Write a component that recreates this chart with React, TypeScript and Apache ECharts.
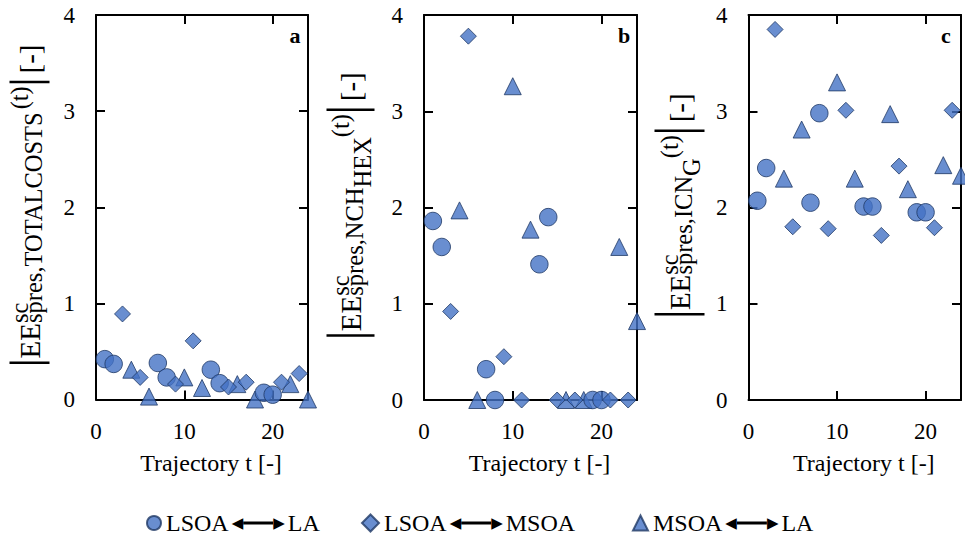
import React, { useEffect, useRef } from "react";
import * as echarts from "echarts";

// ---- data ----
const circleT = [1, 2, 7, 8, 13, 14, 19, 20];
const diamondT = [3, 5, 9, 11, 15, 17, 21, 23];
const triangleT = [4, 6, 10, 12, 16, 18, 22, 24];

const aCircle = [0.42, 0.37, 0.38, 0.23, 0.31, 0.17, 0.07, 0.05];
const aDiamond = [0.89, 0.23, 0.16, 0.61, 0.13, 0.18, 0.18, 0.27];
const aTriangle = [0.31, 0.03, 0.23, 0.12, 0.16, 0.0, 0.16, 0.0];

const bCircle = [1.86, 1.59, 0.32, 0.0, 1.41, 1.9, 0.0, 0.0];
const bDiamond = [0.92, 3.78, 0.45, 0.0, 0.0, 0.0, 0.0, 0.0];
const bTriangle = [1.97, 0.0, 3.26, 1.77, 0.0, 0.0, 1.59, 0.82];

const cCircle = [2.07, 2.41, 2.05, 2.98, 2.01, 2.01, 1.95, 1.95];
const cDiamond = [3.85, 1.8, 1.78, 3.01, 1.71, 2.43, 1.79, 3.01];
const cTriangle = [2.3, 2.81, 3.3, 2.3, 2.97, 2.19, 2.44, 2.33];

const seriesNames = ["LSOA⟷LA", "LSOA⟷MSOA", "MSOA⟷LA"];
const panelLetters = ["a", "b", "c"];
const xTitle = "Trajectory t [-]";

const FONT = "Liberation Serif";
const FILL = "#4472C4";
const EDGE = "#1F3864";

const zip = (t: number[], v: number[]) => t.map((x, i) => [x, v[i]]);

const panels = [
  { circle: aCircle, diamond: aDiamond, triangle: aTriangle },
  { circle: bCircle, diamond: bDiamond, triangle: bTriangle },
  { circle: cCircle, diamond: cDiamond, triangle: cTriangle },
];

const grids = [
  { left: 96, top: 15, width: 212, height: 384.5 },
  { left: 424, top: 15, width: 213, height: 385 },
  { left: 748.5, top: 15, width: 212.5, height: 385 },
];

const yNames = [
  "{bar| }{gap| }{m|EE}{supw|sc}{sub|spres,TOTALCOSTS}{gap| }{sup|(t)}{gap| }{bar| }{m| [-]}",
  "{bar| }{gap| }{m|EE}{supw|sc}{sub|spres,NCH}{sub2|HEX}{sup|(t)}{gap| }{bar| }{m| [-]}",
  "{bar| }{gap| }{m|EE}{supw|sc}{sub|spres,ICN}{sub2|G}{sup|(t)}{gap| }{bar| }{m| [-]}",
];
const barH = [40, 48, 50];
const yNameGap = [44, 49, 44];

function richFor(h: number) {
  return {
    bar: { width: 2.5, height: h, backgroundColor: "#000", align: "left" },
    gap: { width: 3, align: "left" },
    m: { fontSize: 29, fontFamily: FONT, color: "#000", align: "left" },
    supw: { fontSize: 24.5, fontFamily: FONT, color: "#000", width: 0.1, padding: [0, 0, 20, 0], align: "left" },
    sup: { fontSize: 24.5, fontFamily: FONT, color: "#000", padding: [0, 0, 20, 0], align: "left" },
    sub: { fontSize: 24.5, fontFamily: FONT, color: "#000", padding: [8, 0, 0, 0], align: "left" },
    sub2: { fontSize: 24.5, fontFamily: FONT, color: "#000", padding: [24, 0, 0, 0], align: "left" },
  };
}

export default function App() {
  const ref = useRef<HTMLDivElement>(null);
  useEffect(() => {
    if (!ref.current) return;
    const chart = echarts.init(ref.current, undefined, { renderer: "svg" });
    const axisLine = { show: true, onZero: false, lineStyle: { color: "#000", width: 2 } };
    const axisTick = { show: true, inside: true, length: 9, lineStyle: { color: "#000", width: 2 } };
    const xAxis: any[] = [];
    const yAxis: any[] = [];
    const series: any[] = [];
    grids.forEach((g, i) => {
      xAxis.push({
        gridIndex: i, type: "value", position: "bottom", min: 0, max: 24, interval: 10,
        axisLine, axisTick, splitLine: { show: false },
        axisLabel: {
          margin: 20, fontSize: 23, fontFamily: FONT, color: "#000",
          formatter: (v: number) => (v % 10 === 0 ? String(v) : ""),
        },
        name: xTitle, nameLocation: "middle", nameGap: 51,
        nameTextStyle: { fontSize: 24, fontFamily: FONT, color: "#000", padding: [0, 0, 0, 18] },
      });
      xAxis.push({
        gridIndex: i, type: "value", position: "top", min: 0, max: 24, interval: 10,
        axisLine, axisTick, axisLabel: { show: false }, splitLine: { show: false },
      });
      yAxis.push({
        gridIndex: i, type: "value", position: "left", min: 0, max: 4, interval: 1,
        axisLine, axisTick, splitLine: { show: false },
        axisLabel: { margin: 21, fontSize: 23, fontFamily: FONT, color: "#000" },
        name: yNames[i], nameLocation: "middle", nameGap: yNameGap[i],
        nameTextStyle: { fontFamily: FONT, color: "#000", padding: [0, 0, 0, 6], rich: richFor(barH[i]) },
      });
      yAxis.push({
        gridIndex: i, type: "value", position: "right", min: 0, max: 4, interval: 1,
        axisLine, axisTick, axisLabel: { show: false }, splitLine: { show: false },
      });
      const p = panels[i];
      const common = {
        type: "scatter", xAxisIndex: 2 * i, yAxisIndex: 2 * i, clip: false,
        itemStyle: { color: FILL, borderColor: EDGE, borderWidth: 1 },
      };
      series.push({ ...common, name: seriesNames[2], symbol: "triangle", symbolSize: 17, data: zip(triangleT, p.triangle) });
      series.push({ ...common, name: seriesNames[0], symbol: "circle", symbolSize: 17.5, data: zip(circleT, p.circle) });
      series.push({ ...common, name: seriesNames[1], symbol: "diamond", symbolSize: 16, data: zip(diamondT, p.diamond) });
    });

    const legendRich = {
      t: { fontSize: 24, fontFamily: FONT, color: "#000" },
      g: { width: 3 },
      ah: { fontSize: 15, fontFamily: "DejaVu Sans", color: "#000" },
      ln: { width: 30, height: 3, backgroundColor: "#000" },
    };
    const legendFmt = (name: string) => {
      const [l, r] = name.split("⟷");
      return `{t|${l}}{g| }{ah|◀}{ln| }{ah|▶}{g| }{t|${r}}`;
    };
    const legendLefts = [146, 361, 632];
    const legendSizes = [14, 17, 15];
    const legend = seriesNames.map((n, i) => ({
      data: [n], left: legendLefts[i], top: 511, padding: 0, orient: "horizontal",
      itemWidth: legendSizes[i], itemHeight: legendSizes[i], selectedMode: false,
      formatter: legendFmt, textStyle: { rich: legendRich, fontFamily: FONT, fontSize: 24, color: "#000" },
    }));

    const titleLefts = [289.5, 618, 941];
    const title = panelLetters.map((t, i) => ({
      text: t, left: titleLefts[i], top: 24.6, padding: 0,
      textStyle: { fontSize: 22, fontWeight: "bold", fontFamily: FONT, color: "#000" },
    }));

    chart.setOption({
      animation: false,
      backgroundColor: "#fff",
      textStyle: { fontFamily: FONT },
      title,
      legend,
      grid: grids.map((g) => ({ ...g, containLabel: false })),
      xAxis,
      yAxis,
      series,
    });
    return () => chart.dispose();
  }, []);
  return (
    <div
      ref={ref}
      style={{ position: "fixed", left: 0, top: 0, width: 965, height: 541, background: "#fff" }}
    />
  );
}
